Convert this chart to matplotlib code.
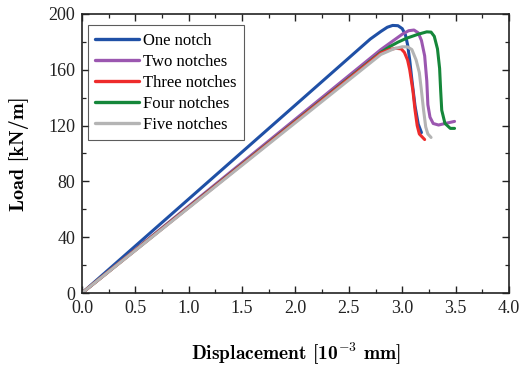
import matplotlib
matplotlib.use("Agg")
import matplotlib.pyplot as plt
from matplotlib.ticker import MultipleLocator, FormatStrFormatter

# ── data ─────────────────────────────────────────────────────────────────────
one_x   = [0, 2.70, 2.80, 2.86, 2.91, 2.96, 3.00, 3.03, 3.05, 3.07, 3.09, 3.12, 3.15, 3.18]
one_y   = [0, 182.0, 187.5, 190.5, 191.8, 191.6, 189.5, 185.0, 178.0, 167.0, 153.0, 134.0, 121.0, 115.0]

two_x   = [0, 2.80, 2.90, 3.00, 3.06, 3.11, 3.15, 3.18, 3.21, 3.23, 3.24, 3.26, 3.29, 3.34, 3.40, 3.49]
two_y   = [0, 174.5, 180.0, 185.5, 188.0, 188.5, 186.5, 181.0, 170.0, 152.0, 135.0, 126.0, 121.5, 120.4, 121.5, 123.0]

three_x = [0, 2.80, 2.88, 2.94, 2.99, 3.02, 3.05, 3.07, 3.10, 3.12, 3.14, 3.16, 3.21]
three_y = [0, 172.0, 174.5, 175.4, 175.0, 172.5, 167.0, 160.0, 145.0, 131.0, 120.0, 114.0, 110.0]

four_x  = [0, 2.80, 2.88, 2.96, 3.04, 3.15, 3.23, 3.27, 3.30, 3.33, 3.35, 3.36, 3.37, 3.40, 3.45, 3.49]
four_y  = [0, 172.5, 176.5, 179.8, 182.6, 185.5, 187.2, 187.0, 184.0, 175.0, 161.0, 145.0, 131.0, 121.6, 118.0, 118.0]

five_x  = [0, 2.80, 2.92, 3.00, 3.05, 3.09, 3.13, 3.16, 3.18, 3.20, 3.22, 3.24, 3.27]
five_y  = [0, 171.0, 175.0, 176.5, 176.4, 174.5, 167.0, 158.0, 145.0, 131.0, 119.0, 114.0, 111.5]

SERIES = [
    ("One notch",     one_x,   one_y,   "#1f50a6"),
    ("Two notches",   two_x,   two_y,   "#9b57b0"),
    ("Three notches", three_x, three_y, "#ee2b2b"),
    ("Four notches",  four_x,  four_y,  "#15873a"),
    ("Five notches",  five_x,  five_y,  "#b4b4b4"),
]
DRAW_ORDER = [0, 1, 3, 2, 4]

# ── style ────────────────────────────────────────────────────────────────────
plt.rcParams.update({
    "font.family": "Liberation Serif",
    "mathtext.fontset": "cm",
    "xtick.direction": "in",
    "ytick.direction": "in",
    "xtick.top": True,
    "ytick.right": True,
})

fig = plt.figure(figsize=(5.28, 3.68), dpi=100)
ax = fig.add_axes([0.1553, 0.2038, 0.8087, 0.7582])

handles = {}
for i in DRAW_ORDER:
    label, xs, ys, color = SERIES[i]
    h, = ax.plot(xs, ys, color=color, linewidth=2.2, label=label,
                 solid_capstyle="round", solid_joinstyle="round")
    handles[i] = h

ax.set_xlim(0, 4.0)
ax.set_ylim(0, 200)
ax.xaxis.set_major_locator(MultipleLocator(0.5))
ax.xaxis.set_minor_locator(MultipleLocator(0.25))
ax.yaxis.set_major_locator(MultipleLocator(40))
ax.yaxis.set_minor_locator(MultipleLocator(20))
ax.xaxis.set_major_formatter(FormatStrFormatter("%.1f"))

for s in ax.spines.values():
    s.set_linewidth(1.2)
    s.set_color("#222222")
ax.tick_params(which="major", length=5, width=1.0, labelsize=13,
               colors="#222222", labelcolor="#222222")
ax.tick_params(axis="x", which="major", pad=5)
ax.tick_params(axis="y", which="major", pad=5)
ax.tick_params(which="minor", length=3, width=0.9, colors="#222222")

ax.set_xlabel(r"Displacement [10$^{-3}$ mm]", fontfamily="cmb10",
              fontsize=14, labelpad=17)
ax.set_ylabel("Load [kN/m]", fontfamily="cmb10", fontsize=14.5, labelpad=14)

leg = ax.legend([handles[i] for i in range(5)], [s[0] for s in SERIES],
                loc="upper left", bbox_to_anchor=(0.014, 0.96),
                fontsize=12, frameon=True, fancybox=False,
                handlelength=2.6, handletextpad=0.25, labelspacing=0.3,
                borderpad=0.45, borderaxespad=0)
leg.get_frame().set_edgecolor("#333333")
leg.get_frame().set_linewidth(0.8)
for line in leg.get_lines():
    line.set_linewidth(2.4)

fig.savefig("out.png", dpi=100)
